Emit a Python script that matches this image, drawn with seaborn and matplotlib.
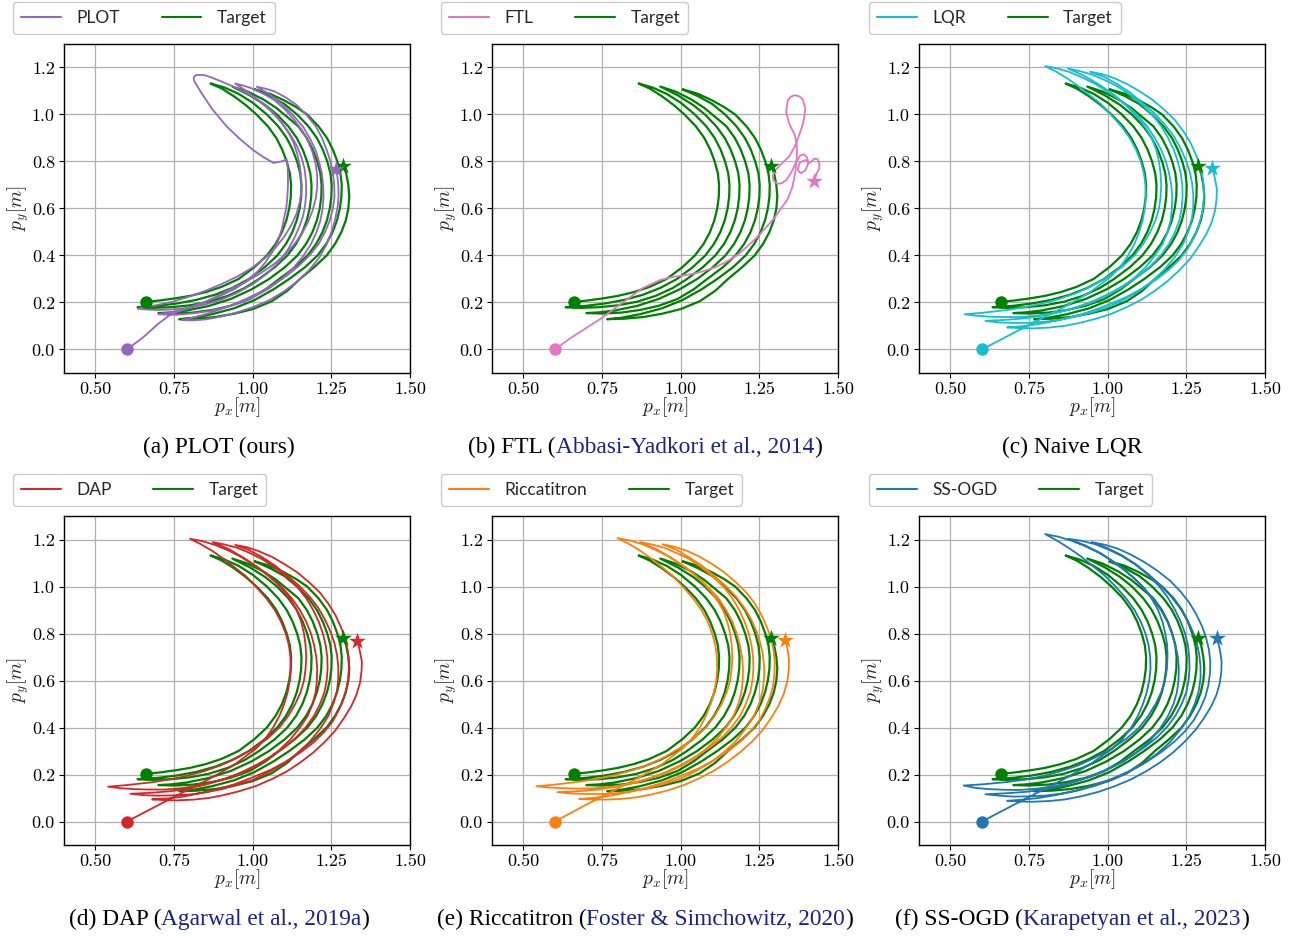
import matplotlib
matplotlib.use("Agg")
import matplotlib.pyplot as plt
from matplotlib.lines import Line2D
import pandas as pd
import seaborn as sns

# ---------------- data ----------------
X_TICKS = [0.50, 0.75, 1.00, 1.25, 1.50]
X_TICK_LABELS = ["0.50", "0.75", "1.00", "1.25", "1.50"]
Y_TICKS = [0.0, 0.2, 0.4, 0.6, 0.8, 1.0, 1.2]
Y_TICK_LABELS = ["0.0", "0.2", "0.4", "0.6", "0.8", "1.0", "1.2"]

TARGET = [
    (0.660, 0.203), (0.700, 0.208), (0.750, 0.217), (0.800, 0.228), (0.850, 0.244), (0.900, 0.266),
    (0.955, 0.300), (1.005, 0.350), (1.045, 0.400), (1.073, 0.450), (1.093, 0.500), (1.107, 0.550),
    (1.116, 0.600), (1.121, 0.650), (1.122, 0.700), (1.118, 0.750), (1.108, 0.800), (1.094, 0.850),
    (1.075, 0.900), (1.048, 0.950), (1.012, 1.000), (0.978, 1.040), (0.940, 1.078), (0.902, 1.110),
    (0.866, 1.132),
    (0.910, 1.115), (0.955, 1.088), (1.000, 1.050), (1.045, 1.000), (1.081, 0.950), (1.108, 0.900),
    (1.127, 0.850), (1.141, 0.800), (1.151, 0.750), (1.155, 0.700), (1.154, 0.650), (1.149, 0.600),
    (1.140, 0.550), (1.126, 0.500), (1.106, 0.450), (1.078, 0.400), (1.038, 0.350), (0.988, 0.300),
    (0.935, 0.262), (0.880, 0.233), (0.820, 0.211), (0.760, 0.196), (0.700, 0.186), (0.634, 0.180),
    (0.680, 0.177), (0.740, 0.180), (0.800, 0.188), (0.860, 0.203), (0.920, 0.228), (0.975, 0.262),
    (1.020, 0.300), (1.070, 0.350), (1.110, 0.400), (1.138, 0.450), (1.158, 0.500), (1.172, 0.550),
    (1.181, 0.600), (1.186, 0.650), (1.187, 0.700), (1.183, 0.750), (1.173, 0.800), (1.159, 0.850),
    (1.140, 0.900), (1.113, 0.950), (1.077, 1.000), (1.040, 1.040), (0.990, 1.082), (0.935, 1.119),
    (0.985, 1.097), (1.035, 1.063), (1.075, 1.028), (1.109, 0.990), (1.145, 0.950), (1.172, 0.900),
    (1.191, 0.850), (1.205, 0.800), (1.215, 0.750), (1.219, 0.700), (1.218, 0.650), (1.213, 0.600),
    (1.204, 0.550), (1.190, 0.500), (1.170, 0.450), (1.142, 0.400), (1.102, 0.350), (1.052, 0.300),
    (0.995, 0.255), (0.930, 0.215), (0.860, 0.185), (0.790, 0.166), (0.740, 0.158), (0.700, 0.155),
    (0.750, 0.153), (0.810, 0.157), (0.870, 0.168), (0.930, 0.186), (0.990, 0.215), (1.040, 0.255),
    (1.084, 0.300), (1.134, 0.350), (1.174, 0.400), (1.202, 0.450), (1.222, 0.500), (1.236, 0.550),
    (1.245, 0.600), (1.250, 0.650), (1.251, 0.700), (1.247, 0.750), (1.237, 0.800), (1.223, 0.850),
    (1.204, 0.900), (1.177, 0.950), (1.141, 1.000), (1.100, 1.045), (1.055, 1.078), (1.006, 1.107),
    (1.055, 1.088), (1.100, 1.060), (1.140, 1.030), (1.173, 1.000), (1.209, 0.950), (1.236, 0.900),
    (1.255, 0.850), (1.269, 0.800), (1.279, 0.750), (1.283, 0.700), (1.282, 0.650), (1.277, 0.600),
    (1.268, 0.550), (1.254, 0.500), (1.234, 0.450), (1.206, 0.400), (1.166, 0.350), (1.116, 0.300),
    (1.065, 0.255), (1.005, 0.210), (0.940, 0.175), (0.870, 0.150), (0.810, 0.135), (0.766, 0.129),
    (0.820, 0.131), (0.880, 0.138), (0.940, 0.152), (1.000, 0.172), (1.060, 0.205), (1.110, 0.250),
    (1.150, 0.300), (1.195, 0.350), (1.235, 0.400), (1.262, 0.450), (1.282, 0.500), (1.296, 0.550),
    (1.304, 0.600), (1.307, 0.650), (1.304, 0.700), (1.297, 0.750), (1.288, 0.779),
]

PLOT_TRAJ = [
    (0.600, 0.000), (0.625, 0.025), (0.650, 0.050), (0.675, 0.080), (0.700, 0.110), (0.740, 0.150),
    (0.800, 0.180), (0.850, 0.203), (0.900, 0.230), (0.942, 0.257), (0.980, 0.290), (1.013, 0.328),
    (1.040, 0.370), (1.062, 0.414), (1.080, 0.460), (1.092, 0.510), (1.100, 0.560), (1.107, 0.605),
    (1.110, 0.650), (1.112, 0.695), (1.112, 0.740), (1.111, 0.780), (1.108, 0.808), (1.090, 0.800),
    (1.066, 0.794), (1.035, 0.818), (1.002, 0.848), (0.960, 0.895), (0.918, 0.948), (0.870, 1.025),
    (0.833, 1.100), (0.815, 1.140), (0.812, 1.158), (0.820, 1.168), (0.845, 1.168), (0.870, 1.157),
    (0.896, 1.143), (0.928, 1.125), (0.960, 1.105), (0.996, 1.080), (1.030, 1.050), (1.062, 1.012),
    (1.090, 0.970), (1.112, 0.926), (1.130, 0.880), (1.142, 0.830), (1.150, 0.780), (1.154, 0.730),
    (1.155, 0.680), (1.150, 0.630), (1.140, 0.580), (1.123, 0.530), (1.100, 0.480), (1.073, 0.434),
    (1.040, 0.390), (0.998, 0.348), (0.950, 0.310), (0.900, 0.278), (0.850, 0.250), (0.800, 0.226),
    (0.750, 0.205), (0.700, 0.190), (0.660, 0.180), (0.634, 0.174),
    (0.665, 0.170), (0.700, 0.168), (0.750, 0.171), (0.800, 0.178), (0.850, 0.192), (0.900, 0.212),
    (0.952, 0.242), (1.000, 0.278), (1.043, 0.320), (1.080, 0.368), (1.108, 0.417), (1.130, 0.468),
    (1.147, 0.518), (1.160, 0.568), (1.167, 0.618), (1.170, 0.668), (1.169, 0.718), (1.165, 0.768),
    (1.155, 0.818), (1.140, 0.868), (1.118, 0.918), (1.090, 0.968), (1.058, 1.015), (1.020, 1.058),
    (0.983, 1.097), (0.944, 1.132),
    (0.970, 1.123), (1.000, 1.110), (1.036, 1.087), (1.070, 1.060), (1.102, 1.022), (1.130, 0.980),
    (1.155, 0.936), (1.175, 0.890), (1.190, 0.840), (1.200, 0.790), (1.205, 0.740), (1.205, 0.690),
    (1.200, 0.640), (1.190, 0.590), (1.175, 0.540), (1.155, 0.490), (1.130, 0.444), (1.100, 0.400),
    (1.062, 0.358), (1.020, 0.320), (0.972, 0.284), (0.920, 0.250), (0.870, 0.216), (0.820, 0.185),
    (0.778, 0.168), (0.740, 0.158), (0.700, 0.150),
    (0.730, 0.148), (0.760, 0.148), (0.810, 0.154), (0.860, 0.163), (0.910, 0.179), (0.960, 0.198),
    (1.006, 0.226), (1.050, 0.258), (1.092, 0.300), (1.130, 0.348), (1.160, 0.397), (1.185, 0.448),
    (1.202, 0.498), (1.215, 0.548), (1.222, 0.598), (1.225, 0.648), (1.224, 0.698), (1.220, 0.748),
    (1.211, 0.798), (1.200, 0.848), (1.182, 0.898), (1.160, 0.948), (1.127, 0.999), (1.090, 1.048),
    (1.053, 1.086), (1.013, 1.118),
    (1.040, 1.110), (1.070, 1.098), (1.106, 1.072), (1.140, 1.040), (1.172, 0.997), (1.200, 0.950),
    (1.220, 0.901), (1.235, 0.850), (1.247, 0.800), (1.255, 0.750), (1.259, 0.700), (1.260, 0.650),
    (1.255, 0.600), (1.245, 0.550), (1.230, 0.500), (1.210, 0.450), (1.183, 0.404), (1.150, 0.360),
    (1.112, 0.318), (1.070, 0.280), (1.022, 0.243), (0.970, 0.210), (0.920, 0.182), (0.870, 0.158),
    (0.820, 0.139), (0.775, 0.125),
    (0.810, 0.124), (0.850, 0.128), (0.900, 0.140), (0.950, 0.158), (1.000, 0.180), (1.050, 0.208),
    (1.097, 0.245), (1.140, 0.288), (1.178, 0.336), (1.210, 0.388), (1.233, 0.442), (1.250, 0.498),
    (1.262, 0.553), (1.270, 0.608), (1.273, 0.655), (1.272, 0.700), (1.269, 0.738), (1.264, 0.770),
]

FTL_TRAJ = [
    (0.600, 0.000), (0.650, 0.049), (0.700, 0.092), (0.750, 0.135), (0.790, 0.175), (0.829, 0.213),
    (0.880, 0.262), (0.935, 0.296), (0.980, 0.310), (1.020, 0.317), (1.050, 0.325), (1.083, 0.338),
    (1.115, 0.353), (1.146, 0.374), (1.180, 0.402), (1.210, 0.437), (1.243, 0.478), (1.273, 0.522),
    (1.297, 0.558), (1.315, 0.593), (1.340, 0.640), (1.355, 0.692), (1.365, 0.760), (1.370, 0.840),
    (1.368, 0.880), (1.362, 0.915), (1.345, 0.960), (1.335, 1.010), (1.340, 1.060), (1.350, 1.076),
    (1.362, 1.082), (1.376, 1.078), (1.388, 1.065), (1.396, 1.025), (1.393, 0.990), (1.387, 0.955),
    (1.376, 0.910), (1.362, 0.862), (1.345, 0.822), (1.320, 0.790), (1.300, 0.762), (1.292, 0.738),
    (1.295, 0.718), (1.308, 0.705), (1.322, 0.708), (1.336, 0.722), (1.352, 0.755), (1.368, 0.800),
    (1.380, 0.826), (1.392, 0.830), (1.402, 0.816), (1.405, 0.790), (1.396, 0.762), (1.381, 0.750),
    (1.372, 0.765), (1.378, 0.795), (1.396, 0.806), (1.412, 0.795), (1.424, 0.812), (1.435, 0.810),
    (1.441, 0.790), (1.440, 0.768), (1.432, 0.750), (1.425, 0.719),
]

LQR_TRAJ = [
    (0.600, 0.000), (0.650, 0.035), (0.700, 0.070), (0.780, 0.125), (0.860, 0.180), (0.940, 0.240),
    (1.010, 0.310), (1.040, 0.352), (1.065, 0.400), (1.085, 0.450), (1.100, 0.500), (1.111, 0.550),
    (1.118, 0.600), (1.121, 0.650), (1.120, 0.700), (1.115, 0.750), (1.105, 0.800), (1.090, 0.850),
    (1.070, 0.900), (1.043, 0.950), (1.010, 1.000), (0.978, 1.045), (0.940, 1.085), (0.905, 1.122),
    (0.870, 1.155), (0.835, 1.183), (0.801, 1.206),
    (0.840, 1.196), (0.880, 1.180), (0.920, 1.157), (0.960, 1.130), (1.000, 1.097), (1.040, 1.060),
    (1.072, 1.021), (1.100, 0.980), (1.122, 0.940), (1.140, 0.900), (1.154, 0.850), (1.163, 0.800),
    (1.168, 0.750), (1.170, 0.700), (1.168, 0.650), (1.163, 0.600), (1.152, 0.550), (1.135, 0.500),
    (1.113, 0.450), (1.085, 0.400), (1.046, 0.352), (1.000, 0.310), (0.952, 0.272), (0.900, 0.240),
    (0.845, 0.215), (0.790, 0.195), (0.735, 0.180), (0.680, 0.168), (0.600, 0.156), (0.545, 0.150),
    (0.580, 0.144), (0.620, 0.140), (0.670, 0.138), (0.720, 0.138), (0.775, 0.144), (0.830, 0.155),
    (0.885, 0.173), (0.940, 0.195), (0.992, 0.225), (1.040, 0.260), (1.083, 0.303), (1.120, 0.350),
    (1.150, 0.400), (1.175, 0.450), (1.190, 0.500), (1.200, 0.550), (1.204, 0.600), (1.205, 0.650),
    (1.202, 0.700), (1.195, 0.750), (1.185, 0.800), (1.170, 0.850), (1.150, 0.900), (1.125, 0.950),
    (1.095, 0.997), (1.060, 1.040), (1.017, 1.087), (0.970, 1.130), (0.923, 1.166), (0.873, 1.196),
    (0.910, 1.185), (0.950, 1.170), (0.990, 1.147), (1.030, 1.120), (1.072, 1.083), (1.110, 1.040),
    (1.143, 0.997), (1.170, 0.950), (1.192, 0.900), (1.210, 0.850), (1.223, 0.800), (1.232, 0.750),
    (1.237, 0.700), (1.238, 0.650), (1.235, 0.600), (1.228, 0.550), (1.214, 0.500), (1.195, 0.450),
    (1.170, 0.403), (1.140, 0.360), (1.103, 0.318), (1.060, 0.280), (1.012, 0.243), (0.960, 0.210),
    (0.907, 0.183), (0.850, 0.160), (0.796, 0.145), (0.740, 0.133), (0.675, 0.126), (0.611, 0.122),
    (0.655, 0.115), (0.700, 0.113), (0.750, 0.113), (0.800, 0.118), (0.850, 0.127), (0.900, 0.140),
    (0.950, 0.158), (1.000, 0.180), (1.052, 0.212), (1.100, 0.250), (1.143, 0.293), (1.180, 0.340),
    (1.213, 0.393), (1.240, 0.450), (1.257, 0.505), (1.268, 0.560), (1.272, 0.610), (1.272, 0.660),
    (1.268, 0.710), (1.260, 0.760), (1.247, 0.810), (1.230, 0.860), (1.208, 0.912), (1.180, 0.960),
    (1.147, 1.007), (1.110, 1.050), (1.072, 1.093), (1.030, 1.130), (0.988, 1.160), (0.944, 1.182),
    (0.982, 1.172), (1.020, 1.155), (1.061, 1.130), (1.100, 1.100), (1.142, 1.063), (1.180, 1.020),
    (1.213, 0.977), (1.240, 0.930), (1.263, 0.880), (1.280, 0.830), (1.294, 0.780), (1.302, 0.730),
    (1.306, 0.680), (1.305, 0.630), (1.300, 0.580), (1.290, 0.530), (1.275, 0.480), (1.255, 0.430),
    (1.228, 0.383), (1.195, 0.340), (1.155, 0.298), (1.110, 0.260), (1.057, 0.222), (1.000, 0.190),
    (0.945, 0.162), (0.890, 0.140), (0.835, 0.122), (0.780, 0.108), (0.728, 0.099), (0.680, 0.094),
    (0.720, 0.091), (0.760, 0.090), (0.810, 0.093), (0.860, 0.100), (0.910, 0.113), (0.960, 0.130),
    (1.012, 0.152), (1.060, 0.180), (1.107, 0.212), (1.150, 0.250), (1.192, 0.293), (1.230, 0.340),
    (1.263, 0.388), (1.290, 0.440), (1.313, 0.490), (1.330, 0.540), (1.341, 0.590), (1.346, 0.640),
    (1.347, 0.682), (1.342, 0.720), (1.337, 0.750), (1.330, 0.774),
]

DAP_TRAJ = [
    (0.600, 0.000), (0.650, 0.035), (0.700, 0.070), (0.780, 0.125), (0.860, 0.180), (0.940, 0.240),
    (1.010, 0.310), (1.040, 0.352), (1.065, 0.400), (1.085, 0.450), (1.100, 0.500), (1.111, 0.550),
    (1.118, 0.600), (1.121, 0.650), (1.120, 0.700), (1.115, 0.750), (1.105, 0.800), (1.090, 0.850),
    (1.070, 0.900), (1.043, 0.950), (1.010, 1.000), (0.978, 1.044), (0.940, 1.084), (0.905, 1.120),
    (0.870, 1.153), (0.835, 1.180), (0.801, 1.203),
    (0.840, 1.193), (0.880, 1.177), (0.920, 1.155), (0.960, 1.128), (1.000, 1.095), (1.040, 1.058),
    (1.072, 1.020), (1.100, 0.979), (1.122, 0.940), (1.140, 0.900), (1.154, 0.850), (1.163, 0.800),
    (1.168, 0.750), (1.170, 0.700), (1.168, 0.650), (1.163, 0.600), (1.152, 0.550), (1.135, 0.500),
    (1.113, 0.450), (1.085, 0.400), (1.046, 0.352), (1.000, 0.310), (0.952, 0.272), (0.900, 0.240),
    (0.845, 0.214), (0.790, 0.194), (0.735, 0.179), (0.680, 0.167), (0.600, 0.155), (0.540, 0.148),
    (0.578, 0.142), (0.620, 0.138), (0.670, 0.136), (0.720, 0.136), (0.775, 0.142), (0.830, 0.153),
    (0.885, 0.171), (0.940, 0.193), (0.992, 0.223), (1.040, 0.259), (1.083, 0.302), (1.120, 0.350),
    (1.150, 0.400), (1.175, 0.450), (1.190, 0.500), (1.200, 0.550), (1.204, 0.600), (1.205, 0.650),
    (1.202, 0.700), (1.195, 0.750), (1.185, 0.800), (1.170, 0.850), (1.150, 0.900), (1.125, 0.948),
    (1.095, 0.994), (1.060, 1.035), (1.017, 1.081), (0.970, 1.123), (0.923, 1.160), (0.873, 1.189),
    (0.910, 1.179), (0.950, 1.165), (0.990, 1.143), (1.030, 1.116), (1.072, 1.080), (1.110, 1.038),
    (1.143, 0.996), (1.170, 0.950), (1.192, 0.900), (1.210, 0.850), (1.223, 0.800), (1.232, 0.750),
    (1.237, 0.700), (1.238, 0.650), (1.235, 0.600), (1.228, 0.550), (1.214, 0.500), (1.195, 0.450),
    (1.170, 0.403), (1.140, 0.360), (1.103, 0.317), (1.060, 0.278), (1.012, 0.241), (0.960, 0.207),
    (0.907, 0.180), (0.850, 0.157), (0.796, 0.141), (0.740, 0.129), (0.675, 0.122), (0.611, 0.118),
    (0.655, 0.112), (0.700, 0.110), (0.750, 0.111), (0.800, 0.115), (0.850, 0.124), (0.900, 0.137),
    (0.950, 0.156), (1.000, 0.177), (1.052, 0.210), (1.100, 0.248), (1.143, 0.291), (1.180, 0.338),
    (1.213, 0.392), (1.240, 0.448), (1.257, 0.504), (1.268, 0.558), (1.272, 0.608), (1.272, 0.658),
    (1.268, 0.708), (1.260, 0.758), (1.247, 0.808), (1.230, 0.858), (1.208, 0.910), (1.180, 0.958),
    (1.147, 1.004), (1.110, 1.046), (1.072, 1.088), (1.030, 1.125), (0.988, 1.155), (0.944, 1.177),
    (0.982, 1.167), (1.020, 1.150), (1.061, 1.126), (1.100, 1.096), (1.142, 1.060), (1.180, 1.017),
    (1.213, 0.975), (1.240, 0.928), (1.263, 0.878), (1.280, 0.828), (1.294, 0.778), (1.302, 0.728),
    (1.306, 0.678), (1.305, 0.628), (1.300, 0.578), (1.290, 0.528), (1.275, 0.478), (1.255, 0.428),
    (1.228, 0.382), (1.195, 0.338), (1.155, 0.297), (1.110, 0.258), (1.057, 0.220), (1.000, 0.188),
    (0.945, 0.160), (0.890, 0.138), (0.835, 0.121), (0.780, 0.106), (0.728, 0.098), (0.680, 0.094),
    (0.720, 0.091), (0.760, 0.090), (0.810, 0.093), (0.860, 0.100), (0.910, 0.113), (0.960, 0.130),
    (1.012, 0.152), (1.060, 0.180), (1.107, 0.212), (1.150, 0.250), (1.192, 0.293), (1.230, 0.340),
    (1.263, 0.388), (1.290, 0.440), (1.313, 0.490), (1.330, 0.540), (1.341, 0.590), (1.346, 0.640),
    (1.347, 0.680), (1.342, 0.716), (1.337, 0.746), (1.330, 0.770),
]

RICCATI_TRAJ = [
    (0.600, 0.000), (0.650, 0.036), (0.700, 0.072), (0.780, 0.127), (0.860, 0.182), (0.940, 0.243),
    (1.008, 0.313), (1.037, 0.355), (1.061, 0.400), (1.080, 0.450), (1.095, 0.500), (1.106, 0.550),
    (1.113, 0.600), (1.116, 0.650), (1.115, 0.700), (1.110, 0.750), (1.100, 0.800), (1.086, 0.850),
    (1.066, 0.900), (1.039, 0.950), (1.006, 1.000), (0.975, 1.045), (0.938, 1.085), (0.903, 1.122),
    (0.868, 1.155), (0.833, 1.183), (0.799, 1.206),
    (0.838, 1.196), (0.878, 1.180), (0.918, 1.157), (0.958, 1.130), (0.998, 1.097), (1.036, 1.060),
    (1.068, 1.021), (1.095, 0.980), (1.117, 0.940), (1.134, 0.900), (1.148, 0.850), (1.157, 0.800),
    (1.162, 0.750), (1.164, 0.700), (1.162, 0.650), (1.157, 0.600), (1.146, 0.550), (1.130, 0.500),
    (1.108, 0.450), (1.080, 0.400), (1.042, 0.354), (0.996, 0.312), (0.949, 0.274), (0.898, 0.242),
    (0.843, 0.217), (0.790, 0.197), (0.735, 0.182), (0.680, 0.170), (0.600, 0.157), (0.541, 0.150),
    (0.578, 0.145), (0.620, 0.142), (0.670, 0.140), (0.720, 0.141), (0.775, 0.147), (0.830, 0.158),
    (0.884, 0.176), (0.938, 0.198), (0.988, 0.228), (1.036, 0.263), (1.078, 0.306), (1.115, 0.352),
    (1.144, 0.400), (1.168, 0.450), (1.183, 0.500), (1.193, 0.550), (1.197, 0.600), (1.198, 0.650),
    (1.195, 0.700), (1.188, 0.750), (1.178, 0.800), (1.164, 0.850), (1.144, 0.900), (1.120, 0.950),
    (1.090, 0.994), (1.056, 1.036), (1.014, 1.082), (0.968, 1.124), (0.921, 1.160), (0.871, 1.189),
    (0.908, 1.179), (0.948, 1.165), (0.988, 1.142), (1.028, 1.116), (1.068, 1.080), (1.106, 1.038),
    (1.138, 0.996), (1.164, 0.950), (1.186, 0.900), (1.203, 0.850), (1.216, 0.800), (1.225, 0.750),
    (1.230, 0.700), (1.231, 0.650), (1.228, 0.600), (1.221, 0.550), (1.207, 0.500), (1.189, 0.450),
    (1.164, 0.405), (1.135, 0.362), (1.098, 0.321), (1.056, 0.283), (1.008, 0.246), (0.957, 0.213),
    (0.904, 0.186), (0.848, 0.163), (0.795, 0.148), (0.740, 0.136), (0.675, 0.129), (0.608, 0.125),
    (0.653, 0.119), (0.700, 0.117), (0.750, 0.117), (0.800, 0.121), (0.850, 0.130), (0.900, 0.143),
    (0.950, 0.161), (1.000, 0.183), (1.050, 0.216), (1.097, 0.253), (1.138, 0.296), (1.175, 0.342),
    (1.206, 0.395), (1.233, 0.450), (1.250, 0.505), (1.261, 0.560), (1.265, 0.610), (1.265, 0.660),
    (1.261, 0.710), (1.253, 0.760), (1.241, 0.810), (1.224, 0.860), (1.202, 0.910), (1.175, 0.958),
    (1.142, 1.004), (1.106, 1.046), (1.068, 1.088), (1.027, 1.124), (0.985, 1.157), (0.942, 1.180),
    (0.980, 1.169), (1.018, 1.153), (1.058, 1.128), (1.097, 1.098), (1.138, 1.061), (1.175, 1.018),
    (1.208, 0.975), (1.234, 0.930), (1.256, 0.880), (1.273, 0.830), (1.287, 0.780), (1.295, 0.730),
    (1.299, 0.680), (1.298, 0.630), (1.294, 0.580), (1.284, 0.530), (1.269, 0.480), (1.250, 0.430),
    (1.223, 0.385), (1.191, 0.342), (1.151, 0.300), (1.107, 0.262), (1.055, 0.225), (0.998, 0.193),
    (0.943, 0.165), (0.888, 0.143), (0.833, 0.125), (0.778, 0.110), (0.726, 0.101), (0.677, 0.096),
    (0.718, 0.094), (0.760, 0.093), (0.810, 0.096), (0.860, 0.103), (0.910, 0.116), (0.960, 0.133),
    (1.010, 0.155), (1.058, 0.183), (1.104, 0.215), (1.148, 0.253), (1.190, 0.296), (1.228, 0.342),
    (1.261, 0.390), (1.288, 0.442), (1.311, 0.493), (1.328, 0.545), (1.339, 0.598), (1.344, 0.652),
    (1.344, 0.690), (1.341, 0.722), (1.337, 0.750), (1.331, 0.773),
]

SSOGD_TRAJ = [
    (0.600, 0.000), (0.650, 0.035), (0.700, 0.070), (0.780, 0.125), (0.860, 0.180), (0.940, 0.240),
    (1.015, 0.310), (1.048, 0.353), (1.075, 0.400), (1.096, 0.450), (1.112, 0.500), (1.124, 0.550),
    (1.132, 0.600), (1.136, 0.650), (1.135, 0.700), (1.130, 0.750), (1.120, 0.800), (1.105, 0.850),
    (1.085, 0.900), (1.058, 0.950), (1.025, 1.000), (0.990, 1.047), (0.950, 1.090), (0.913, 1.130),
    (0.875, 1.165), (0.838, 1.196), (0.801, 1.223),
    (0.843, 1.212), (0.885, 1.195), (0.928, 1.172), (0.970, 1.145), (1.014, 1.110), (1.055, 1.070),
    (1.090, 1.028), (1.120, 0.985), (1.142, 0.943), (1.160, 0.900), (1.174, 0.850), (1.183, 0.800),
    (1.189, 0.750), (1.190, 0.700), (1.188, 0.650), (1.182, 0.600), (1.170, 0.550), (1.152, 0.500),
    (1.129, 0.450), (1.100, 0.400), (1.060, 0.353), (1.012, 0.310), (0.960, 0.272), (0.905, 0.238),
    (0.848, 0.213), (0.790, 0.192), (0.735, 0.178), (0.680, 0.168), (0.600, 0.158), (0.542, 0.153),
    (0.580, 0.143), (0.620, 0.138), (0.670, 0.135), (0.720, 0.134), (0.775, 0.140), (0.830, 0.150),
    (0.888, 0.168), (0.945, 0.190), (0.998, 0.220), (1.050, 0.255), (1.095, 0.298), (1.135, 0.345),
    (1.167, 0.397), (1.192, 0.450), (1.209, 0.500), (1.220, 0.550), (1.225, 0.600), (1.226, 0.650),
    (1.223, 0.700), (1.215, 0.750), (1.204, 0.800), (1.190, 0.850), (1.169, 0.900), (1.143, 0.950),
    (1.112, 0.998), (1.075, 1.045), (1.030, 1.093), (0.980, 1.140), (0.928, 1.175), (0.875, 1.203),
    (0.918, 1.194), (0.960, 1.180), (1.003, 1.157), (1.045, 1.130), (1.088, 1.093), (1.128, 1.050),
    (1.162, 1.003), (1.190, 0.955), (1.213, 0.903), (1.232, 0.850), (1.246, 0.800), (1.255, 0.750),
    (1.259, 0.700), (1.260, 0.650), (1.257, 0.600), (1.250, 0.550), (1.235, 0.500), (1.215, 0.450),
    (1.189, 0.403), (1.158, 0.360), (1.119, 0.318), (1.075, 0.278), (1.025, 0.240), (0.970, 0.205),
    (0.913, 0.177), (0.855, 0.152), (0.798, 0.137), (0.740, 0.126), (0.675, 0.120), (0.611, 0.116),
    (0.655, 0.110), (0.700, 0.106), (0.750, 0.107), (0.800, 0.110), (0.853, 0.119), (0.905, 0.132),
    (0.958, 0.151), (1.010, 0.175), (1.063, 0.208), (1.112, 0.245), (1.158, 0.290), (1.198, 0.338),
    (1.232, 0.393), (1.260, 0.450), (1.278, 0.505), (1.290, 0.560), (1.295, 0.610), (1.295, 0.660),
    (1.291, 0.710), (1.283, 0.760), (1.270, 0.810), (1.252, 0.860), (1.229, 0.910), (1.200, 0.960),
    (1.166, 1.008), (1.127, 1.055), (1.087, 1.097), (1.042, 1.135), (0.996, 1.165), (0.949, 1.189),
    (0.990, 1.178), (1.030, 1.162), (1.073, 1.136), (1.115, 1.105), (1.158, 1.067), (1.198, 1.025),
    (1.231, 0.979), (1.260, 0.930), (1.282, 0.880), (1.300, 0.830), (1.313, 0.780), (1.322, 0.730),
    (1.326, 0.680), (1.325, 0.630), (1.320, 0.580), (1.310, 0.530), (1.294, 0.480), (1.273, 0.430),
    (1.245, 0.383), (1.212, 0.340), (1.171, 0.296), (1.125, 0.255), (1.070, 0.215), (1.010, 0.180),
    (0.953, 0.153), (0.895, 0.130), (0.838, 0.113), (0.780, 0.100), (0.730, 0.093), (0.680, 0.088),
    (0.720, 0.085), (0.760, 0.084), (0.812, 0.087), (0.865, 0.094), (0.918, 0.108), (0.970, 0.126),
    (1.022, 0.150), (1.072, 0.178), (1.120, 0.212), (1.165, 0.250), (1.207, 0.293), (1.245, 0.340),
    (1.279, 0.390), (1.306, 0.440), (1.329, 0.490), (1.346, 0.540), (1.356, 0.588), (1.361, 0.635),
    (1.362, 0.680), (1.358, 0.720), (1.353, 0.752), (1.346, 0.780),
]

METHODS = ["PLOT", "FTL", "LQR", "DAP", "Riccatitron", "SS-OGD"]
TRAJS = [PLOT_TRAJ, FTL_TRAJ, LQR_TRAJ, DAP_TRAJ, RICCATI_TRAJ, SSOGD_TRAJ]
COLORS = ["#9467bd", "#e377c2", "#17becf", "#d62728", "#ff7f0e", "#1f77b4"]
TARGET_COLOR = "green"
CITE = "#16238c"
CAPTIONS = [
    [("(a) PLOT (ours)", "black")],
    [("(b) FTL (", "black"), ("Abbasi-Yadkori et al., 2014", CITE), (")", "black")],
    [("(c) Naive LQR", "black")],
    [("(d) DAP (", "black"), ("Agarwal et al., 2019a", CITE), (")", "black")],
    [("(e) Riccatitron (", "black"), ("Foster & Simchowitz, 2020", CITE), (")", "black")],
    [("(f) SS-OGD (", "black"), ("Karapetyan et al., 2023", CITE), (")", "black")],
]

# ---------------- style ----------------
sns.set_style("whitegrid", {"axes.edgecolor": "black", "grid.color": "#b0b0b0",
                            "xtick.bottom": True, "ytick.left": True})
plt.rcParams["font.family"] = "serif"
plt.rcParams["font.serif"] = ["cmr10", "DejaVu Serif"]
plt.rcParams["mathtext.fontset"] = "cm"
plt.rcParams["axes.formatter.use_mathtext"] = True
plt.rcParams["axes.unicode_minus"] = False
plt.rcParams["lines.solid_joinstyle"] = "round"

W, H = 1294, 938
fig = plt.figure(figsize=(W / 100, H / 100), dpi=100)

AX_LEFT = [64, 492, 919]
AX_TOP = [44, 516]
AX_W, AX_H = 346, 329
LEG_LEFT = [13, 441, 869]
LEG_TOP = [2, 474]
CAP_X = [219, 645, 1072]
CAP_BASE = [453, 925]

renderer = fig.canvas.get_renderer()

for i, (name, traj, col) in enumerate(zip(METHODS, TRAJS, COLORS)):
    r, c = divmod(i, 3)
    l = AX_LEFT[c] / W
    b = 1 - (AX_TOP[r] + AX_H) / H
    ax = fig.add_axes([l, b, AX_W / W, AX_H / H])
    dft = pd.DataFrame(TARGET, columns=["x", "y"])
    dfc = pd.DataFrame(traj, columns=["x", "y"])
    sns.lineplot(data=dft, x="x", y="y", sort=False, estimator=None, color=TARGET_COLOR,
                 lw=1.6, ax=ax, legend=False, zorder=2)
    sns.lineplot(data=dfc, x="x", y="y", sort=False, estimator=None, color=col,
                 lw=1.3, ax=ax, legend=False, zorder=3)
    # start / end markers
    sns.scatterplot(x=[dfc.x.iloc[0]], y=[dfc.y.iloc[0]], color=col, marker="o", s=80,
                    linewidth=0, ax=ax, zorder=4, legend=False)
    sns.scatterplot(x=[dft.x.iloc[0]], y=[dft.y.iloc[0]], color=TARGET_COLOR, marker="o", s=80,
                    linewidth=0, ax=ax, zorder=4, legend=False)
    sns.scatterplot(x=[dft.x.iloc[-1]], y=[dft.y.iloc[-1]], color=TARGET_COLOR, marker="*", s=160,
                    linewidth=0, ax=ax, zorder=4, legend=False)
    sns.scatterplot(x=[dfc.x.iloc[-1]], y=[dfc.y.iloc[-1]], color=col, marker="*", s=160,
                    linewidth=0, ax=ax, zorder=5, legend=False)

    ax.set_xlim(0.4, 1.5)
    ax.set_ylim(-0.1, 1.3)
    ax.set_xticks(X_TICKS)
    ax.set_xticklabels(X_TICK_LABELS)
    ax.set_yticks(Y_TICKS)
    ax.set_yticklabels(Y_TICK_LABELS)
    ax.tick_params(axis="both", direction="out", length=3.5, width=0.8, labelsize=13,
                   colors="black", pad=3)
    ax.set_xlabel(r"$p_x[m]$", fontsize=14, labelpad=-1.5)
    ax.set_ylabel(r"$p_y[m]$", fontsize=14, labelpad=0.5)
    for s in ax.spines.values():
        s.set_color("black")
        s.set_linewidth(1.0)
    ax.grid(True, color="#b0b0b0", lw=0.9)
    ax.set_axisbelow(True)

    handles = [Line2D([0], [0], color=col, lw=1.5), Line2D([0], [0], color=TARGET_COLOR, lw=1.5)]
    fig.legend(handles, [name, "Target"], loc="upper left",
               bbox_to_anchor=(LEG_LEFT[c] / W, 1 - LEG_TOP[r] / H),
               bbox_transform=fig.transFigure, ncol=2,
               prop={"family": "Lato", "size": 12.5}, frameon=True, fancybox=True,
               edgecolor="#cccccc", framealpha=1, handlelength=2.3, columnspacing=2.4,
               handletextpad=0.9, borderpad=0.45, borderaxespad=0)

    # caption (multi-coloured, centred)
    texts = []
    for s, cc in CAPTIONS[i]:
        t = fig.text(0, 1 - CAP_BASE[r] / H, s, color=cc, fontsize=16.8,
                     family="Liberation Serif", va="baseline", ha="left")
        texts.append(t)
    widths = [t.get_window_extent(renderer).width for t in texts]
    x0 = CAP_X[c] - sum(widths) / 2
    for t, w in zip(texts, widths):
        t.set_x(x0 / W)
        x0 += w

fig.savefig("out.png", dpi=100)
